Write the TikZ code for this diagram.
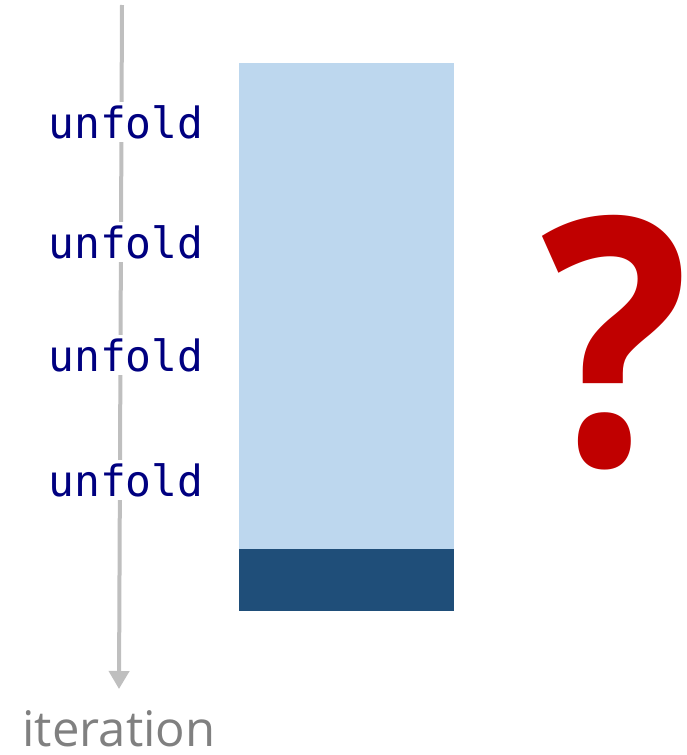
\documentclass[tikz,border=0pt]{standalone}
\usepackage{fontspec}
\setmainfont{Open Sans}
\newfontfamily\codefont{DejaVu Sans Mono}
\usetikzlibrary{arrows.meta}
\definecolor{lightfill}{HTML}{BDD7EE}
\definecolor{darkfill}{HTML}{1F4E79}
\definecolor{codeblue}{HTML}{000080}
\definecolor{qred}{HTML}{C00000}
\definecolor{axisgray}{HTML}{BFBFBF}
\definecolor{labelgray}{HTML}{808080}
\begin{document}
\begin{tikzpicture}[x=1pt,y=-1pt,
  steplabel/.style={font=\codefont\fontsize{43}{46}\selectfont, text=codeblue, fill=white, inner sep=3pt},
  axis/.style={draw=axisgray, line width=4pt, -{Triangle[length=18pt,width=20pt]}}]
\useasboundingbox (0,0) rectangle (686,755);
% iteration axis
\coordinate (top) at (122,5);
\coordinate (bottom) at (119,689);
\draw[axis] (top) -- (bottom);
% unfold steps along the axis
\node[steplabel] (u1) at (126,122) {unfold};
\node[steplabel] (u2) at (126,242) {unfold};
\node[steplabel] (u3) at (126,355) {unfold};
\node[steplabel] (u4) at (126,480) {unfold};
\node[font=\fontsize{49}{52}\selectfont, text=labelgray, anchor=base, inner sep=0pt] (iter) at (119,746) {iteration};
% memory block
\fill[lightfill] (239,63) rectangle (454,549);
\fill[darkfill] (239,549) rectangle (454,611);
% question mark
\node[font=\bfseries\fontsize{360}{360}\selectfont, text=qred, anchor=base, inner sep=0pt,
      xscale=0.86, yscale=0.96, transform shape] (q) at (615,465) {?};
\end{tikzpicture}
\end{document}
